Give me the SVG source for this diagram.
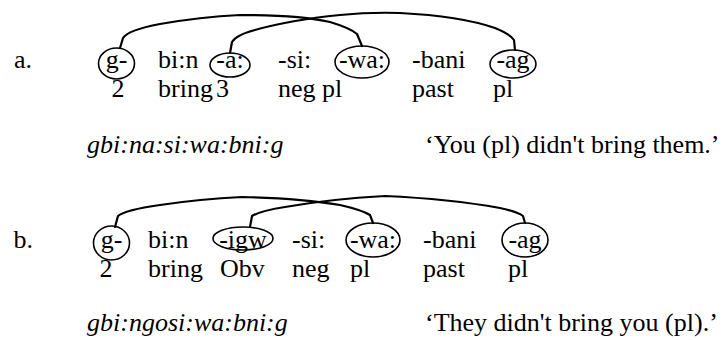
<svg xmlns="http://www.w3.org/2000/svg" width="725" height="340" viewBox="0 0 725 340">
<style>
text{font-family:"Liberation Serif","Times New Roman",serif;font-size:26px;fill:#000}
.it{font-style:italic}
.m{text-anchor:middle}
.e{text-anchor:end}
ellipse{fill:none;stroke:#000;stroke-width:1.6}
.arc{fill:none;stroke:#000;stroke-width:2.2;stroke-linejoin:round;stroke-linecap:round}
</style>
<rect width="725" height="340" fill="#fff"/>
<g id="connectors">
<path class="arc" d="M120,48 L123,38 Q128,30 160,24 Q200,17 240,15 Q300,15 330,22 Q350,28 357,34 L362,46"/>
<path class="arc" d="M230,53 L232,42 Q236,35 255,30 Q290,20 340,15 Q370,12 400,13 Q460,16 495,28 Q510,34 514,40 L515,50"/>
<path class="arc" d="M115,227 L118,216 Q125,210 160,205 Q200,199 242,197 Q300,198 340,205 Q362,210 370,215 L373,223"/>
<path class="arc" d="M250,227 L252,216 Q260,211 285,207 Q330,199 385,196 Q450,199 500,208 Q518,212 523,216 L525,223"/>
</g>
<g id="row-a">
<g id="a-label"><text x="32" y="68" class="e">a.</text></g>
<g id="a-g"><ellipse cx="116.5" cy="63.5" rx="18" ry="15.5"/><text x="116.5" y="68" class="m">g-</text><text x="118" y="97" class="m">2</text></g>
<g id="a-bin"><text x="158" y="68">bi:n</text><text x="158" y="97">bring</text></g>
<g id="a-a"><ellipse cx="230" cy="65" rx="20" ry="12"/><text x="230" y="68" class="m">-a:</text><text x="216" y="97">3</text></g>
<g id="a-si"><text x="278" y="68">-si:</text><text x="278" y="97">neg</text></g>
<g id="a-wa"><ellipse cx="362" cy="62" rx="27" ry="16"/><text x="362" y="68" class="m">-wa:</text><text x="322" y="97">pl</text></g>
<g id="a-bani"><text x="412" y="68">-bani</text><text x="412" y="97">past</text></g>
<g id="a-ag"><ellipse cx="513" cy="64" rx="23" ry="14"/><text x="513" y="68" class="m">-ag</text><text x="493" y="97">pl</text></g>
<g id="a-form"><text x="87" y="153" class="it">gbi:na:si:wa:bni:g</text></g>
<g id="a-trans"><text x="425" y="153">‘You (pl) didn't bring them.’</text></g>
</g>
<g id="row-b">
<g id="b-label"><text x="33" y="247.5" class="e">b.</text></g>
<g id="b-g"><ellipse cx="111.5" cy="243" rx="18" ry="17"/><text x="111.5" y="247.5" class="m">g-</text><text x="106" y="277" class="m">2</text></g>
<g id="b-bin"><text x="148" y="247.5">bi:n</text><text x="148" y="277">bring</text></g>
<g id="b-igw"><ellipse cx="243" cy="238.5" rx="30" ry="11.5"/><text x="243" y="247.5" class="m">-igw</text><text x="220" y="277">Obv</text></g>
<g id="b-si"><text x="292" y="247.5">-si:</text><text x="292" y="277">neg</text></g>
<g id="b-wa"><ellipse cx="373" cy="240" rx="27" ry="17"/><text x="373" y="247.5" class="m">-wa:</text><text x="350" y="277">pl</text></g>
<g id="b-bani"><text x="423" y="247.5">-bani</text><text x="423" y="277">past</text></g>
<g id="b-ag"><ellipse cx="525" cy="240" rx="23" ry="17"/><text x="525" y="247.5" class="m">-ag</text><text x="508" y="277">pl</text></g>
<g id="b-form"><text x="87" y="331" class="it">gbi:ngosi:wa:bni:g</text></g>
<g id="b-trans"><text x="425" y="331">‘They didn't bring you (pl).’</text></g>
</g>
</svg>
